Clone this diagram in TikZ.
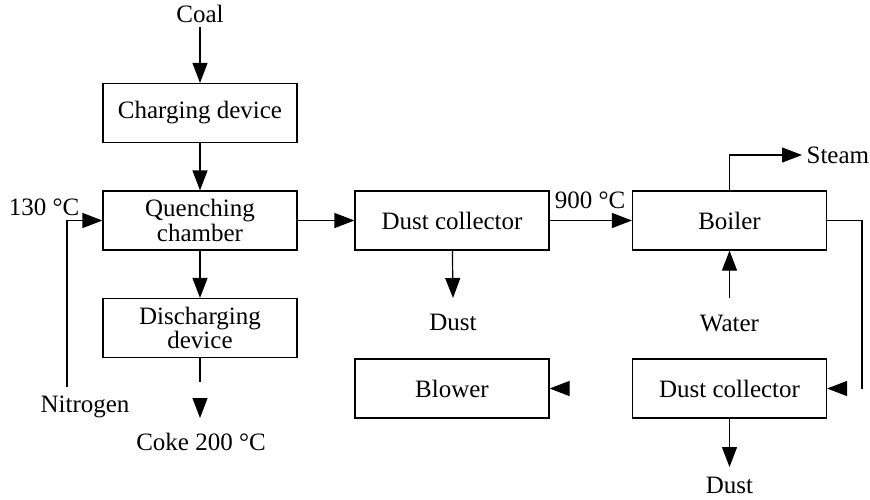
\documentclass[tikz,border=0pt]{standalone}
\usepackage{fontspec}
\setmainfont{Liberation Serif}
\usetikzlibrary{arrows.meta}
\begin{document}
\begin{tikzpicture}[x=0.5pt,y=-0.5pt,line width=0.6pt,
  >={Triangle[length=10pt,width=7.5pt]},
  font=\fontsize{12.5}{11}\selectfont,
  unit/.style={draw,minimum width=97pt,minimum height=29.5pt,inner sep=0pt,align=center},
  lbl/.style={inner sep=2pt,align=center}]
\useasboundingbox (0,0) rectangle (870,499);

% units
\node[unit] (charge) at (200,113) {Charging device};
\node[unit] (quench) at (200,220.5) {Quenching\\chamber};
\node[unit] (disch) at (200,328) {Discharging\\device};
\node[unit] (dc1) at (452,220.5) {Dust collector};
\node[unit] (blower) at (452,388.5) {Blower};
\node[unit] (boiler) at (729.5,220.5) {Boiler};
\node[unit] (dc2) at (729.5,388.5) {Dust collector};

% labels
\node[lbl] (coal) at (200,14) {Coal};
\node[lbl] (t130) at (44,207) {130 °C};
\node[lbl] (nitro) at (85,407) {Nitrogen};
\node[lbl] (coke) at (201,442) {Coke 200 °C};
\node[lbl] (dust1) at (453,322) {Dust};
\node[lbl] (t900) at (590,200) {900 °C};
\node[lbl,anchor=west] (steam) at (802,155) {Steam};
\node[lbl] (water) at (729.5,323) {Water};
\node[lbl] (dust2) at (729.5,485) {Dust};

\coordinate (n0) at (67,387);
\coordinate (d0) at (200,382);
\coordinate (d1) at (200,398);
\coordinate (d2) at (200,418);
\coordinate (dd1) at (453,298);
\coordinate (w0) at (729.5,298);
\coordinate (dd2) at (729.5,467);
\coordinate (r0) at (862,220.5);
\coordinate (r1) at (862,388.5);
\coordinate (b0) at (567,388.5);
\coordinate (b1) at (845,388.5);

\draw[->] (coal) -- (charge);
\draw[->] (charge) -- (quench);
\draw[->] (quench) -- (disch);
\draw (disch) -- (d0);
\draw[->] (d1) -- (d2);
\draw[->] (n0) |- (quench.west);
\draw[->] (quench) -- (dc1);
\draw[->] (dc1) -- (dd1);
\draw[->] (dc1) -- (boiler);
\draw[->] (boiler.north) |- (steam.west);
\draw[->] (w0) -- (boiler);
\draw (boiler.east) -- (r0) -- (r1);
\draw[->] (b1) -- (dc2.east);
\draw[->] (b0) -- (blower.east);
\draw[->] (dc2) -- (dd2);
\end{tikzpicture}
\end{document}
